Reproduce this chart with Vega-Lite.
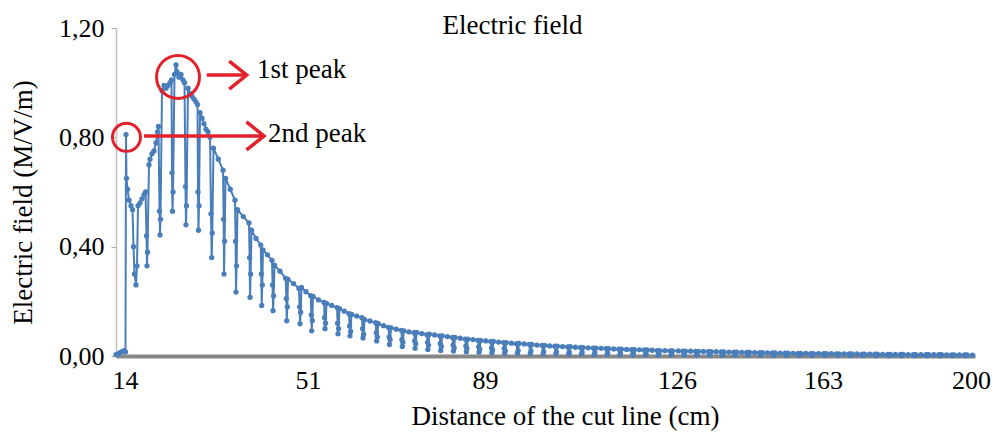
{
  "$schema": "https://vega.github.io/schema/vega-lite/v6.json",
  "width": 859,
  "height": 328,
  "autosize": {"type": "none"},
  "padding": {"left": 116, "top": 28, "right": 23, "bottom": 77},
  "background": "white",
  "config": {"view": {"stroke": null}, "font": "Liberation Serif"},
  "title": {"text": "Electric field", "frame": "group", "anchor": "middle", "orient": "top", "dx": -33, "dy": 46, "offset": 0, "baseline": "alphabetic", "fontSize": 27, "fontWeight": "normal", "font": "Liberation Serif", "color": "black"},
  "datasets": {
    "field": [
      {"distance":12.18,"E":0.005},{"distance":12.58,"E":0.008},{"distance":12.99,"E":0.012},{"distance":13.39,"E":0.016},{"distance":13.8,"E":0.02},{"distance":14.1,"E":0.015},
      {"distance":14.2,"E":0.81},
      {"distance":14.3,"E":0.65},{"distance":14.51,"E":0.61},{"distance":14.81,"E":0.57},{"distance":15.21,"E":0.55},{"distance":15.52,"E":0.535},{"distance":15.72,"E":0.40},{"distance":15.92,"E":0.30},{"distance":16.22,"E":0.26},{"distance":16.43,"E":0.33},
      {"distance":16.63,"E":0.55},{"distance":17.03,"E":0.56},{"distance":17.44,"E":0.575},{"distance":17.84,"E":0.59},{"distance":18.15,"E":0.6},{"distance":18.35,"E":0.44},{"distance":18.45,"E":0.33},{"distance":18.55,"E":0.38},
      {"distance":18.85,"E":0.70},{"distance":19.06,"E":0.72},{"distance":19.46,"E":0.74},{"distance":19.86,"E":0.75},{"distance":20.27,"E":0.78},{"distance":20.57,"E":0.82},{"distance":20.77,"E":0.84},{"distance":20.98,"E":0.53},{"distance":21.08,"E":0.443},{"distance":21.18,"E":0.5},
      {"distance":21.48,"E":0.97},{"distance":21.89,"E":0.99},{"distance":22.29,"E":0.98},{"distance":22.69,"E":0.99},{"distance":23.1,"E":1.0},{"distance":23.4,"E":1.01},{"distance":23.5,"E":0.67},{"distance":23.6,"E":0.53},{"distance":23.71,"E":0.6},
      {"distance":24.01,"E":1.03},{"distance":24.31,"E":1.065},{"distance":24.51,"E":1.04},{"distance":24.92,"E":1.02},{"distance":25.32,"E":1.03},{"distance":25.73,"E":1.01},{"distance":26.03,"E":1.0},{"distance":26.23,"E":0.62},{"distance":26.33,"E":0.48},{"distance":26.43,"E":0.55},
      {"distance":26.74,"E":0.98},{"distance":27.14,"E":0.96},{"distance":27.55,"E":0.95},{"distance":27.95,"E":0.94},{"distance":28.36,"E":0.93},{"distance":28.66,"E":0.92},{"distance":28.76,"E":0.6},{"distance":28.86,"E":0.46},{"distance":28.96,"E":0.55},
      {"distance":29.17,"E":0.89},{"distance":29.57,"E":0.87},{"distance":29.97,"E":0.85},{"distance":30.38,"E":0.83},{"distance":30.78,"E":0.82},{"distance":31.19,"E":0.80},{"distance":31.39,"E":0.52},{"distance":31.53,"E":0.36},{"distance":31.65,"E":0.45},
      {"distance":31.89,"E":0.76},{"distance":32.87,"E":0.72},{"distance":33.82,"E":0.68},{"distance":33.94,"E":0.5},{"distance":34.02,"E":0.30},{"distance":34.14,"E":0.42},
      {"distance":34.32,"E":0.65},{"distance":35.29,"E":0.61},{"distance":36.24,"E":0.57},{"distance":36.36,"E":0.42},{"distance":36.44,"E":0.234},{"distance":36.56,"E":0.33},
      {"distance":36.75,"E":0.535},{"distance":37.92,"E":0.51},{"distance":39.07,"E":0.487},{"distance":39.19,"E":0.36},{"distance":39.28,"E":0.215},{"distance":39.4,"E":0.30},
      {"distance":39.58,"E":0.46},{"distance":40.49,"E":0.43},{"distance":41.44,"E":0.406},{"distance":41.56,"E":0.30},{"distance":41.64,"E":0.185},{"distance":41.76,"E":0.26},
      {"distance":41.9,"E":0.388},{"distance":42.81,"E":0.37},{"distance":43.72,"E":0.35},{"distance":43.84,"E":0.26},{"distance":43.93,"E":0.166},{"distance":44.05,"E":0.22},
      {"distance":44.23,"E":0.332},{"distance":45.34,"E":0.31},{"distance":46.49,"E":0.284},{"distance":46.62,"E":0.21},{"distance":46.7,"E":0.129},{"distance":46.82,"E":0.18},
      {"distance":46.96,"E":0.28},{"distance":48.07,"E":0.265},{"distance":49.18,"E":0.247},{"distance":49.3,"E":0.18},{"distance":49.39,"E":0.118},{"distance":49.51,"E":0.16},
      {"distance":49.69,"E":0.251},{"distance":50.6,"E":0.235},{"distance":51.58,"E":0.221},{"distance":51.71,"E":0.15},{"distance":51.79,"E":0.092},{"distance":51.92,"E":0.13},
      {"distance":52.07,"E":0.218},{"distance":53.25,"E":0.205},{"distance":54.44,"E":0.196},{"distance":54.56,"E":0.14},{"distance":54.65,"E":0.10},{"distance":54.78,"E":0.12},
      {"distance":54.97,"E":0.192},{"distance":56.09,"E":0.185},{"distance":57.23,"E":0.177},{"distance":57.36,"E":0.12},{"distance":57.44,"E":0.081},{"distance":57.57,"E":0.10},
      {"distance":57.76,"E":0.173},{"distance":58.79,"E":0.164},{"distance":59.8,"E":0.155},{"distance":59.93,"E":0.11},{"distance":60.02,"E":0.074},{"distance":60.15,"E":0.09},
      {"distance":60.34,"E":0.152},{"distance":61.46,"E":0.146},{"distance":62.59,"E":0.14},{"distance":62.72,"E":0.10},{"distance":62.81,"E":0.066},{"distance":62.94,"E":0.08},
      {"distance":63.13,"E":0.133},{"distance":64.31,"E":0.128},{"distance":65.53,"E":0.122},{"distance":65.66,"E":0.085},{"distance":65.75,"E":0.055},{"distance":65.88,"E":0.07},
      {"distance":66.07,"E":0.118},{"distance":67.23,"E":0.111},{"distance":68.28,"E":0.105},{"distance":68.41,"E":0.07},{"distance":68.5,"E":0.042},{"distance":68.63,"E":0.06},
      {"distance":68.82,"E":0.103},{"distance":69.94,"E":0.098},{"distance":71.03,"E":0.094},{"distance":71.16,"E":0.06},{"distance":71.25,"E":0.035},{"distance":71.37,"E":0.05},
      {"distance":71.57,"E":0.092},{"distance":72.68,"E":0.088},{"distance":73.78,"E":0.085},{"distance":73.91,"E":0.055},{"distance":73.99,"E":0.028},{"distance":74.12,"E":0.045},
      {"distance":74.32,"E":0.086},{"distance":75.43,"E":0.082},{"distance":76.53,"E":0.078},{"distance":76.66,"E":0.05},{"distance":76.74,"E":0.024},{"distance":76.87,"E":0.04},
      {"distance":77.06,"E":0.08},{"distance":78.18,"E":0.077},{"distance":79.28,"E":0.074},{"distance":79.4,"E":0.045},{"distance":79.49,"E":0.02},{"distance":79.62,"E":0.035},
      {"distance":79.81,"E":0.074},{"distance":80.93,"E":0.071},{"distance":82.02,"E":0.068},{"distance":82.15,"E":0.04},{"distance":82.24,"E":0.018},{"distance":82.37,"E":0.03},
      {"distance":82.56,"E":0.068},{"distance":83.68,"E":0.065},{"distance":84.77,"E":0.062},{"distance":84.9,"E":0.037},{"distance":84.99,"E":0.016},{"distance":85.12,"E":0.028},
      {"distance":85.31,"E":0.062},{"distance":86.43,"E":0.06},{"distance":87.52,"E":0.057},{"distance":87.65,"E":0.034},{"distance":87.73,"E":0.014},{"distance":87.86,"E":0.025},
      {"distance":88.06,"E":0.057},{"distance":89.15,"E":0.055},{"distance":90.14,"E":0.053},{"distance":90.25,"E":0.03},{"distance":90.33,"E":0.012},{"distance":90.45,"E":0.022},
      {"distance":90.62,"E":0.053},{"distance":91.62,"E":0.051},{"distance":92.6,"E":0.049},{"distance":92.72,"E":0.028},{"distance":92.8,"E":0.011},{"distance":92.91,"E":0.02},
      {"distance":93.09,"E":0.049},{"distance":94.08,"E":0.047},{"distance":95.07,"E":0.045},{"distance":95.26,"E":0.01},{"distance":95.38,"E":0.02},
      {"distance":95.55,"E":0.046},{"distance":96.55,"E":0.044},{"distance":97.54,"E":0.042},{"distance":97.73,"E":0.009},{"distance":97.85,"E":0.018},
      {"distance":98.02,"E":0.042},{"distance":99.01,"E":0.04},{"distance":100.0,"E":0.039},{"distance":100.2,"E":0.008},{"distance":100.31,"E":0.016},
      {"distance":100.49,"E":0.039},{"distance":101.48,"E":0.037},{"distance":102.47,"E":0.036},{"distance":102.66,"E":0.008},{"distance":102.78,"E":0.015},
      {"distance":102.95,"E":0.036},{"distance":103.95,"E":0.0345},{"distance":104.94,"E":0.033},{"distance":105.13,"E":0.007},{"distance":105.24,"E":0.014},
      {"distance":105.42,"E":0.034},{"distance":106.41,"E":0.032},{"distance":107.4,"E":0.031},{"distance":107.6,"E":0.007},{"distance":107.71,"E":0.013},
      {"distance":107.88,"E":0.031},{"distance":108.88,"E":0.03},{"distance":109.87,"E":0.029},{"distance":110.06,"E":0.006},{"distance":110.18,"E":0.012},
      {"distance":110.35,"E":0.029},{"distance":111.35,"E":0.028},{"distance":112.34,"E":0.027},{"distance":112.53,"E":0.006},{"distance":112.65,"E":0.011},
      {"distance":112.82,"E":0.027},{"distance":113.81,"E":0.026},{"distance":114.8,"E":0.025},{"distance":115.0,"E":0.005},{"distance":115.11,"E":0.01},
      {"distance":115.28,"E":0.025},{"distance":116.28,"E":0.024},{"distance":117.27,"E":0.023},{"distance":117.46,"E":0.005},{"distance":117.58,"E":0.01},
      {"distance":117.75,"E":0.023},{"distance":118.75,"E":0.0225},{"distance":119.74,"E":0.022},{"distance":119.93,"E":0.005},{"distance":120.04,"E":0.009},
      {"distance":120.22,"E":0.022},{"distance":121.21,"E":0.021},{"distance":122.2,"E":0.02},{"distance":122.4,"E":0.004},{"distance":122.51,"E":0.009},
      {"distance":122.68,"E":0.02},{"distance":123.68,"E":0.0195},{"distance":124.67,"E":0.019},{"distance":124.86,"E":0.004},{"distance":124.98,"E":0.008},
      {"distance":125.15,"E":0.019},{"distance":126.33,"E":0.0185},{"distance":127.5,"E":0.018},{"distance":127.75,"E":0.004},{"distance":127.9,"E":0.008},
      {"distance":128.13,"E":0.018},{"distance":129.44,"E":0.0175},{"distance":130.74,"E":0.017},{"distance":130.99,"E":0.004},{"distance":131.14,"E":0.007},
      {"distance":131.37,"E":0.017},{"distance":132.68,"E":0.0165},{"distance":133.98,"E":0.016},{"distance":134.24,"E":0.003},{"distance":134.39,"E":0.007},
      {"distance":134.62,"E":0.016},{"distance":135.93,"E":0.0155},{"distance":137.23,"E":0.015},{"distance":137.48,"E":0.003},{"distance":137.63,"E":0.006},
      {"distance":137.86,"E":0.015},{"distance":139.17,"E":0.0145},{"distance":140.47,"E":0.014},{"distance":140.72,"E":0.003},{"distance":140.87,"E":0.006},
      {"distance":141.1,"E":0.014},{"distance":142.41,"E":0.0135},{"distance":143.71,"E":0.013},{"distance":143.97,"E":0.003},{"distance":144.12,"E":0.006},
      {"distance":144.35,"E":0.013},{"distance":145.66,"E":0.0125},{"distance":146.96,"E":0.012},{"distance":147.21,"E":0.003},{"distance":147.36,"E":0.005},
      {"distance":147.59,"E":0.012},{"distance":148.9,"E":0.0115},{"distance":150.2,"E":0.011},{"distance":150.45,"E":0.002},{"distance":150.6,"E":0.005},
      {"distance":150.83,"E":0.011},{"distance":152.14,"E":0.0105},{"distance":153.44,"E":0.01},{"distance":153.7,"E":0.002},{"distance":153.85,"E":0.005},
      {"distance":154.08,"E":0.01},{"distance":155.39,"E":0.0098},{"distance":156.69,"E":0.0095},{"distance":156.94,"E":0.002},{"distance":157.09,"E":0.004},
      {"distance":157.32,"E":0.0095},{"distance":158.63,"E":0.0093},{"distance":159.93,"E":0.009},{"distance":160.18,"E":0.002},{"distance":160.33,"E":0.004},
      {"distance":160.56,"E":0.009},{"distance":161.87,"E":0.0088},{"distance":163.18,"E":0.0085},{"distance":163.43,"E":0.002},{"distance":163.58,"E":0.004},
      {"distance":163.8,"E":0.0085},{"distance":165.09,"E":0.0083},{"distance":166.38,"E":0.008},{"distance":166.63,"E":0.002},{"distance":166.78,"E":0.004},
      {"distance":167.0,"E":0.008},{"distance":168.29,"E":0.0078},{"distance":169.58,"E":0.0075},{"distance":169.83,"E":0.002},{"distance":169.98,"E":0.004},
      {"distance":170.2,"E":0.0075},{"distance":171.49,"E":0.0073},{"distance":172.78,"E":0.007},{"distance":173.03,"E":0.002},{"distance":173.18,"E":0.003},
      {"distance":173.4,"E":0.007},{"distance":174.69,"E":0.0068},{"distance":175.98,"E":0.0065},{"distance":176.23,"E":0.001},{"distance":176.38,"E":0.003},
      {"distance":176.6,"E":0.0065},{"distance":177.89,"E":0.0063},{"distance":179.18,"E":0.006},{"distance":179.43,"E":0.001},{"distance":179.58,"E":0.003},
      {"distance":179.8,"E":0.006},{"distance":181.09,"E":0.0058},{"distance":182.38,"E":0.0055},{"distance":182.63,"E":0.001},{"distance":182.78,"E":0.003},
      {"distance":183.0,"E":0.0055},{"distance":184.29,"E":0.0053},{"distance":185.58,"E":0.005},{"distance":185.83,"E":0.001},{"distance":185.98,"E":0.003},
      {"distance":186.2,"E":0.005},{"distance":187.49,"E":0.0049},{"distance":188.78,"E":0.0048},{"distance":189.03,"E":0.001},{"distance":189.18,"E":0.002},
      {"distance":189.4,"E":0.0048},{"distance":190.69,"E":0.0047},{"distance":191.98,"E":0.0045},{"distance":192.23,"E":0.001},{"distance":192.38,"E":0.002},
      {"distance":192.6,"E":0.0045},{"distance":193.89,"E":0.0044},{"distance":195.18,"E":0.0042},{"distance":195.43,"E":0.001},{"distance":195.58,"E":0.002},
      {"distance":195.8,"E":0.0042},{"distance":197.09,"E":0.0041},{"distance":198.38,"E":0.004},{"distance":198.63,"E":0.001},{"distance":198.78,"E":0.002},
      {"distance":199.0,"E":0.004},{"distance":200.4,"E":0.0035}
    ],
    "peaks": [
      {"peak": "1st peak", "distance": 24.72, "E": 1.021, "arrow_from": 30.52, "arrow_to": 38.61, "arrow_E": 1.028, "label_at": 40.69, "label_E": 1.017},
      {"peak": "2nd peak", "distance": 14.3, "E": 0.80, "arrow_from": 17.84, "arrow_to": 42.11, "arrow_E": 0.805, "label_at": 42.91, "label_E": 0.784}
    ]
  },
  "layer": [
    {
      "data": {"name": "field"},
      "mark": {"type": "line", "color": "#4a7ebb", "strokeWidth": 2, "point": {"filled": true, "size": 28, "color": "#4a7ebb"}},
      "encoding": {
        "x": {
          "field": "distance", "type": "quantitative",
          "scale": {"domain": [12.18, 14, 51, 89, 126, 163, 200, 201.0], "range": [0, 9, 192, 369, 561, 707, 855, 859], "nice": false, "zero": false},
          "axis": {
            "title": "Distance of the cut line (cm)",
            "values": [14, 51, 89, 126, 163, 200], "format": "d",
            "grid": false, "ticks": false, "tickSize": 0,
            "domainColor": "#878787", "domainWidth": 4,
            "labelFont": "Liberation Serif", "labelFontSize": 26, "labelColor": "black",
            "labelBaseline": "alphabetic", "labelPadding": 32, "labelFlush": false, "labelOverlap": false,
            "titleFont": "Liberation Serif", "titleFontSize": 27, "titleFontWeight": "normal", "titleColor": "black",
            "titleX": 449, "titleY": 68, "titleBaseline": "alphabetic", "titleAlign": "center"
          }
        },
        "y": {
          "field": "E", "type": "quantitative",
          "scale": {"domain": [0, 1.2], "nice": false, "zero": true},
          "axis": {
            "title": "Electric field (M/V/m)",
            "values": [0, 0.4, 0.8, 1.2],
            "labelExpr": "replace(format(datum.value, '.2f'), '.', ',')",
            "grid": false, "ticks": true, "tickSize": 5, "tickColor": "#a6a6a6",
            "domainColor": "#bfbfbf", "domainWidth": 1.5,
            "labelFont": "Liberation Serif", "labelFontSize": 26, "labelColor": "black", "labelPadding": 7,
            "titleFont": "Liberation Serif", "titleFontSize": 27, "titleFontWeight": "normal", "titleColor": "black",
            "titleX": -85, "titleY": 174, "titleBaseline": "alphabetic", "titleAlign": "center"
          }
        }
      }
    },
    {
      "data": {"name": "peaks"},
      "transform": [{"filter": "datum.peak === '1st peak'"}],
      "mark": {"type": "point", "shape": "circle", "filled": false, "stroke": "#e3212b", "strokeWidth": 3, "size": 1849, "opacity": 1},
      "encoding": {"x": {"field": "distance", "type": "quantitative"}, "y": {"field": "E", "type": "quantitative"}}
    },
    {
      "data": {"name": "peaks"},
      "transform": [{"filter": "datum.peak === '2nd peak'"}],
      "mark": {"type": "point", "shape": "circle", "filled": false, "stroke": "#e3212b", "strokeWidth": 3, "size": 784, "opacity": 1},
      "encoding": {"x": {"field": "distance", "type": "quantitative"}, "y": {"field": "E", "type": "quantitative"}}
    },
    {
      "data": {"name": "peaks"},
      "mark": {"type": "rule", "color": "#e3212b", "strokeWidth": 3.5},
      "encoding": {"x": {"field": "arrow_from", "type": "quantitative"}, "x2": {"field": "arrow_to"}, "y": {"field": "arrow_E", "type": "quantitative"}}
    },
    {
      "data": {"name": "peaks"},
      "mark": {"type": "point", "shape": "M-1.25,-1L0,0L-1.25,1", "filled": false, "stroke": "#e3212b", "strokeWidth": 3.5, "size": 784, "opacity": 1, "strokeJoin": "miter"},
      "encoding": {"x": {"field": "arrow_to", "type": "quantitative"}, "y": {"field": "arrow_E", "type": "quantitative"}}
    },
    {
      "data": {"name": "peaks"},
      "mark": {"type": "text", "align": "left", "baseline": "alphabetic", "font": "Liberation Serif", "fontSize": 27, "color": "black"},
      "encoding": {"x": {"field": "label_at", "type": "quantitative"}, "y": {"field": "label_E", "type": "quantitative"}, "text": {"field": "peak"}}
    }
  ]
}
